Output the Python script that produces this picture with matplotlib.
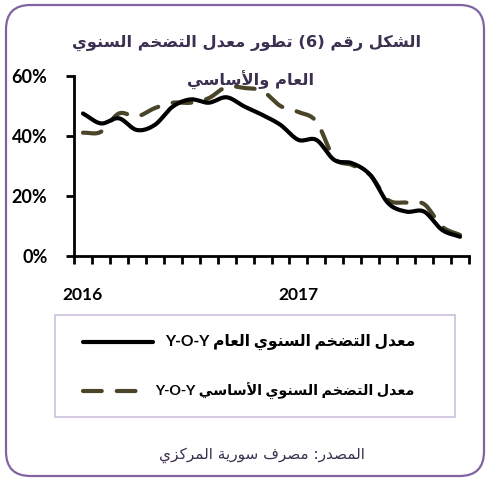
import numpy as np
import matplotlib
matplotlib.use("Agg")
import matplotlib.pyplot as plt
from matplotlib.patches import FancyBboxPatch, Rectangle
from matplotlib.lines import Line2D

# ---------------- data ----------------
months = ["Jan-16", "Feb-16", "Mar-16", "Apr-16", "May-16", "Jun-16", "Jul-16", "Aug-16",
          "Sep-16", "Oct-16", "Nov-16", "Dec-16", "Jan-17", "Feb-17", "Mar-17", "Apr-17",
          "May-17", "Jun-17", "Jul-17", "Aug-17", "Sep-17", "Oct-17"]
headline = [47.5, 44.2, 45.9, 42.0, 43.7, 49.8, 52.2, 51.1, 52.9, 49.8, 47.0, 43.7,
            38.7, 38.7, 32.0, 30.9, 27.0, 17.6, 14.8, 14.8, 8.7, 6.4]
core = [41.1, 41.4, 47.5, 46.5, 49.3, 51.1, 51.1, 52.6, 56.4, 56.0, 55.0, 50.0,
        48.0, 44.8, 32.6, 30.3, 27.0, 18.7, 17.8, 17.3, 9.8, 7.0]
year_labels = ["2016", "2017"]
year_positions = [0, 12]
y_ticks = [0, 20, 40, 60]

title_l1 = "الشكل رقم (6) تطور معدل التضخم السنوي"
title_l2 = "العام والأساسي"
legend_l1 = "معدل التضخم السنوي العام Y-O-Y"
legend_l2 = "معدل التضخم السنوي الأساسي Y-O-Y"
source_txt = "المصدر: مصرف سورية المركزي"

# ---------------- minimal Arabic shaping ----------------
_BASE = {
    0x0621: (0xFE80, 'U'), 0x0622: (0xFE81, 'R'), 0x0623: (0xFE83, 'R'), 0x0624: (0xFE85, 'R'),
    0x0625: (0xFE87, 'R'), 0x0626: (0xFE89, 'D'), 0x0627: (0xFE8D, 'R'), 0x0628: (0xFE8F, 'D'),
    0x0629: (0xFE93, 'R'), 0x062A: (0xFE95, 'D'), 0x062B: (0xFE99, 'D'), 0x062C: (0xFE9D, 'D'),
    0x062D: (0xFEA1, 'D'), 0x062E: (0xFEA5, 'D'), 0x062F: (0xFEA9, 'R'), 0x0630: (0xFEAB, 'R'),
    0x0631: (0xFEAD, 'R'), 0x0632: (0xFEAF, 'R'), 0x0633: (0xFEB1, 'D'), 0x0634: (0xFEB5, 'D'),
    0x0635: (0xFEB9, 'D'), 0x0636: (0xFEBD, 'D'), 0x0637: (0xFEC1, 'D'), 0x0638: (0xFEC5, 'D'),
    0x0639: (0xFEC9, 'D'), 0x063A: (0xFECD, 'D'), 0x0641: (0xFED1, 'D'), 0x0642: (0xFED5, 'D'),
    0x0643: (0xFED9, 'D'), 0x0644: (0xFEDD, 'D'), 0x0645: (0xFEE1, 'D'), 0x0646: (0xFEE5, 'D'),
    0x0647: (0xFEE9, 'D'), 0x0648: (0xFEED, 'R'), 0x0649: (0xFEEF, 'R'), 0x064A: (0xFEF1, 'D'),
}
_LAMALEF = {0x0622: 0xFEF5, 0x0623: 0xFEF7, 0x0625: 0xFEF9, 0x0627: 0xFEFB}
_MIRROR = {"(": ")", ")": "(", "[": "]", "]": "["}


def _is_ar(c):
    return ord(c) in _BASE


def shape(s):
    out = []
    i = 0
    n = len(s)
    prev_joins = False
    while i < n:
        c = s[i]
        o = ord(c)
        if o not in _BASE:
            out.append(c)
            prev_joins = False
            i += 1
            continue
        base, jt = _BASE[o]
        nxt = s[i + 1] if i + 1 < n else ""
        if o == 0x0644 and nxt and ord(nxt) in _LAMALEF:
            lig = _LAMALEF[ord(nxt)]
            out.append(chr(lig + (1 if prev_joins else 0)))
            prev_joins = False
            i += 2
            continue
        join_next = jt == 'D' and nxt != "" and _is_ar(nxt)
        join_prev = prev_joins and jt in ('D', 'R')
        if jt == 'U':
            f = base
        elif join_prev and join_next:
            f = base + 3
        elif join_next:
            f = base + 2
        elif join_prev:
            f = base + 1
        else:
            f = base
        out.append(chr(f))
        prev_joins = join_next
        i += 1
    return "".join(out)


def visual(s):
    sh = shape(s)
    tokens = []
    cur = ""
    cur_ltr = None
    for ch in sh:
        ltr = ch.isascii() and (ch.isalnum() or ch in "-%.")
        if cur_ltr is None or ltr == cur_ltr:
            cur += ch
        else:
            tokens.append((cur, cur_ltr))
            cur = ch
        cur_ltr = ltr
    if cur:
        tokens.append((cur, cur_ltr))
    res = []
    for t, ltr in reversed(tokens):
        if ltr:
            res.append(t)
        else:
            res.append("".join(_MIRROR.get(c, c) for c in reversed(t)))
    return "".join(res)


def smooth(xs, ys, k=12):
    xs = np.asarray(xs, float)
    ys = np.asarray(ys, float)
    px = np.concatenate([[2 * xs[0] - xs[1]], xs, [2 * xs[-1] - xs[-2]]])
    py = np.concatenate([[2 * ys[0] - ys[1]], ys, [2 * ys[-1] - ys[-2]]])
    ox, oy = [], []
    t = np.linspace(0, 1, k, endpoint=False)
    for i in range(1, len(px) - 2):
        for arr, o in ((px, ox), (py, oy)):
            p0, p1, p2, p3 = arr[i - 1], arr[i], arr[i + 1], arr[i + 2]
            v = 0.5 * ((2 * p1) + (-p0 + p2) * t + (2 * p0 - 5 * p1 + 4 * p2 - p3) * t ** 2
                       + (-p0 + 3 * p1 - 3 * p2 + p3) * t ** 3)
            o.extend(v)
    ox.append(xs[-1])
    oy.append(ys[-1])
    return np.array(ox), np.array(oy)


# ---------------- figure ----------------
W, H = 489, 480
fig = plt.figure(figsize=(W / 100, H / 100), dpi=100)
fam = ['Lato', 'DejaVu Sans']
arfam = ['DejaVu Sans']

# rounded border
border = FancyBboxPatch((6 / W, 4 / H), 478 / W, 471 / H,
                        boxstyle="round,pad=0,rounding_size=0.05",
                        transform=fig.transFigure, fill=False,
                        edgecolor="#8064a2", linewidth=1.6,
                        mutation_aspect=W / H)
fig.patches.append(border)

ax = fig.add_axes([74 / W, 1 - 256 / H, 395 / W, 180 / H])
x = np.arange(len(months))
hx, hy = smooth(x, headline)
cx, cy = smooth(x, core)
ax.plot(cx, cy, color="#4a4528", lw=3.0, dashes=(4.5, 3.6), dash_capstyle="round",
        solid_capstyle="round")
ax.plot(hx, hy, color="#000000", lw=3.0, solid_capstyle="round")

ax.set_xlim(-0.5, len(months) - 0.5)
ax.set_ylim(0, 60)
for s in ("top", "right"):
    ax.spines[s].set_visible(False)
for s in ("left", "bottom"):
    ax.spines[s].set_linewidth(2.0)
    ax.spines[s].set_color("black")

ax.set_yticks(y_ticks)
ax.set_yticklabels([f"{v}%" for v in y_ticks], fontfamily=fam, fontweight="bold", fontsize=13)
ax.tick_params(axis="y", length=6, width=2.0, pad=13)
for lbl in ax.get_yticklabels():
    lbl.set_horizontalalignment("right")

ax.set_xticks(np.arange(-0.5, len(months), 1.0))
ax.set_xticklabels([])
ax.tick_params(axis="x", which="major", length=6, width=2.0)
ax.set_xticks(year_positions, minor=True)
ax.set_xticklabels(year_labels, minor=True, fontfamily=fam, fontweight="bold", fontsize=12.5)
ax.tick_params(axis="x", which="minor", length=0, pad=22)

# title
title_color = "#3b3050"
fig.text(247 / W, 1 - 43 / H, visual(title_l1), ha="center", va="center",
         fontsize=11.7, fontweight="bold", color=title_color, family=arfam)
fig.text(251 / W, 1 - 80 / H, visual(title_l2), ha="center", va="center",
         fontsize=11.7, fontweight="bold", color=title_color, family=arfam)

# legend box
fig.patches.append(Rectangle((55 / W, 1 - 417 / H), 400 / W, 102 / H, transform=fig.transFigure,
                             fill=False, edgecolor="#ccc1da", linewidth=1.2))
fig.lines.append(Line2D([83 / W, 153 / W], [1 - 342 / H, 1 - 342 / H], transform=fig.transFigure,
                        color="black", lw=3.0, solid_capstyle="round"))
fig.lines.append(Line2D([83 / W, 139 / W], [1 - 391 / H, 1 - 391 / H], transform=fig.transFigure,
                        color="#4a4528", lw=3.0, dashes=(4.5, 3.6), dash_capstyle="round"))
fig.text(415 / W, 1 - 342 / H, visual(legend_l1), ha="right", va="center",
         fontsize=11.2, fontweight="bold", color="black", family=fam)
fig.text(415 / W, 1 - 391 / H, visual(legend_l2), ha="right", va="center",
         fontsize=10.3, fontweight="bold", color="black", family=fam)

# source
fig.text(262 / W, 1 - 455 / H, visual(source_txt), ha="center", va="center",
         fontsize=11, color=title_color, family=arfam)

fig.savefig("out.png", dpi=100)
